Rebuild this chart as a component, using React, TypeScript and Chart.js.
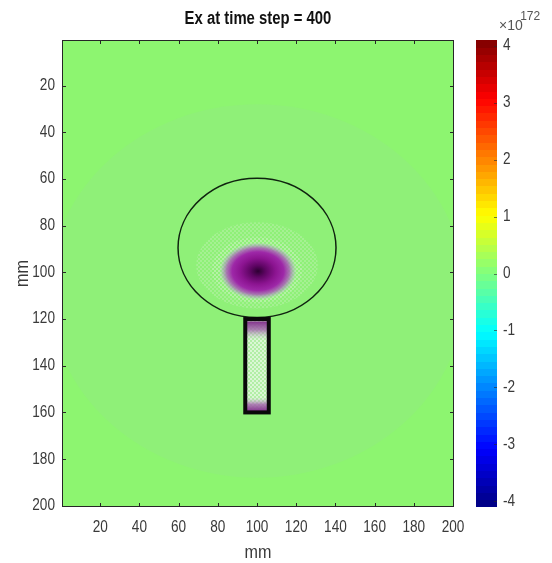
import React, { useEffect, useRef } from 'react';
import { Chart, registerables } from 'chart.js';

Chart.register(...registerables);

// ---------- data (mm units / field units) ----------
const titleText = 'Ex at time step = 400';
const axisTitle = 'mm';
const fieldRange = [0.5, 200.5];
const xTicks = [20, 40, 60, 80, 100, 120, 140, 160, 180, 200];
const yTicks = [20, 40, 60, 80, 100, 120, 140, 160, 180, 200];
const colorbarTicks = [-4, -3, -2, -1, 0, 1, 2, 3, 4];
const colorbarRange = [-4.1, 4.1];
const colorbarExponent = '172';
// ellipses: [cx, cy, rx, ry] in mm
const outerHalo = [100, 108, 106, 80];
const headOutline = [100, 89.5, 40.3, 29.8];
const innerHaloWide = [100, 97, 31, 18.5];
const innerHaloCore = [100, 99, 23, 14];
const blobCore = [100.5, 99.5, 20, 12.5];
// feed rectangle: [x0, y0, x1, y1] in mm
const feedRect = [94, 120, 106, 160];
const feedTopBand = [121, 129];
const feedBottomBand = [153.5, 159.5];

const FONT = "'Liberation Sans', Arial, sans-serif";
const SQUEEZE = 0.85;
const TEXT = '#3a3a3a';
const BG = 'rgb(141,245,112)';

function jet(t: number): string {
  const c = (v: number) => Math.round(255 * Math.max(0, Math.min(1, v)));
  return `rgb(${c(1.5 - Math.abs(4 * t - 3))},${c(1.5 - Math.abs(4 * t - 2))},${c(1.5 - Math.abs(4 * t - 1))})`;
}

function ell(chart: any, e: number[]) {
  const { x, y } = chart.scales;
  const X = x.getPixelForValue(e[0]);
  const Y = y.getPixelForValue(e[1]);
  const RX = Math.abs(x.getPixelForValue(e[0] + e[2]) - X);
  const RY = Math.abs(y.getPixelForValue(e[1] + e[3]) - Y);
  return { X, Y, RX, RY };
}

function checker(ctx: CanvasRenderingContext2D, color: string) {
  const c = document.createElement('canvas');
  c.width = 4; c.height = 4;
  const g = c.getContext('2d')!;
  g.fillStyle = color;
  g.fillRect(0, 0, 2, 2);
  g.fillRect(2, 2, 2, 2);
  return ctx.createPattern(c, 'repeat')!;
}

// narrow text rendering (MATLAB-like condensed look)
const narrowTextPlugin = {
  id: 'narrowText',
  beforeDraw(chart: any) {
    const ctx = chart.ctx as any;
    if (ctx.__origFill) return;
    const orig = ctx.fillText;
    ctx.__origFill = orig;
    ctx.fillText = function (text: string, x: number, y: number, maxWidth?: number) {
      this.save();
      this.translate(x, y);
      this.scale(SQUEEZE, 1);
      if (maxWidth != null) orig.call(this, text, 0, 0, maxWidth / SQUEEZE);
      else orig.call(this, text, 0, 0);
      this.restore();
    };
  },
  afterDraw(chart: any) {
    const ctx = chart.ctx as any;
    if (ctx.__origFill) {
      ctx.fillText = ctx.__origFill;
      delete ctx.__origFill;
    }
  },
};

const fieldPlugin = {
  id: 'field',
  beforeDatasetsDraw(chart: any) {
    const { ctx, chartArea: a, scales } = chart;
    const { x, y } = scales;
    ctx.save();
    ctx.beginPath();
    ctx.rect(a.left, a.top, a.width, a.height);
    ctx.clip();
    ctx.fillStyle = BG;
    ctx.fillRect(a.left, a.top, a.width, a.height);
    // faint outer halo
    let e = ell(chart, outerHalo);
    ctx.fillStyle = 'rgb(143,240,120)';
    ctx.beginPath(); ctx.ellipse(e.X, e.Y, e.RX, e.RY, 0, 0, Math.PI * 2); ctx.fill();
    // checker halo around blob
    const pat = checker(ctx, 'rgb(205,244,196)');
    ctx.fillStyle = pat;
    e = ell(chart, innerHaloWide);
    ctx.globalAlpha = 0.35;
    ctx.beginPath(); ctx.ellipse(e.X, e.Y, e.RX, e.RY, 0, 0, Math.PI * 2); ctx.fill();
    e = ell(chart, innerHaloCore);
    ctx.globalAlpha = 0.4;
    ctx.beginPath(); ctx.ellipse(e.X, e.Y, e.RX, e.RY, 0, 0, Math.PI * 2); ctx.fill();
    ctx.globalAlpha = 1;
    // blob
    e = ell(chart, blobCore);
    ctx.save();
    ctx.translate(e.X, e.Y);
    ctx.scale(e.RX, e.RY);
    const g = ctx.createRadialGradient(0, 0, 0, 0, 0, 1);
    g.addColorStop(0, 'rgb(45,0,50)');
    g.addColorStop(0.2, 'rgb(95,5,100)');
    g.addColorStop(0.45, 'rgb(140,20,145)');
    g.addColorStop(0.66, 'rgb(158,40,168)');
    g.addColorStop(0.8, 'rgba(168,95,182,0.85)');
    g.addColorStop(0.92, 'rgba(170,170,190,0.45)');
    g.addColorStop(1, 'rgba(190,230,190,0)');
    ctx.fillStyle = g;
    ctx.beginPath(); ctx.arc(0, 0, 1, 0, Math.PI * 2); ctx.fill();
    ctx.restore();
    // feed interior
    const x0 = x.getPixelForValue(feedRect[0]);
    const x1 = x.getPixelForValue(feedRect[2]);
    const y0 = y.getPixelForValue(feedRect[1]);
    const y1 = y.getPixelForValue(feedRect[3]);
    ctx.fillStyle = 'rgb(178,238,166)';
    ctx.fillRect(x0, y0, x1 - x0, y1 - y0);
    ctx.fillStyle = checker(ctx, 'rgb(232,250,228)');
    ctx.globalAlpha = 0.75;
    ctx.fillRect(x0, y0, x1 - x0, y1 - y0);
    ctx.globalAlpha = 1;
    const tb0 = y.getPixelForValue(feedTopBand[0]);
    const tb1 = y.getPixelForValue(feedTopBand[1]);
    let lg = ctx.createLinearGradient(0, tb0, 0, tb1);
    lg.addColorStop(0, 'rgba(130,50,140,1)');
    lg.addColorStop(0.45, 'rgba(160,100,170,0.8)');
    lg.addColorStop(1, 'rgba(200,200,210,0)');
    ctx.fillStyle = lg;
    ctx.fillRect(x0, tb0, x1 - x0, tb1 - tb0);
    const bb0 = y.getPixelForValue(feedBottomBand[0]);
    const bb1 = y.getPixelForValue(feedBottomBand[1]);
    lg = ctx.createLinearGradient(0, bb0, 0, bb1);
    lg.addColorStop(0, 'rgba(200,200,210,0)');
    lg.addColorStop(0.5, 'rgba(165,100,175,0.8)');
    lg.addColorStop(1, 'rgba(130,50,140,1)');
    ctx.fillStyle = lg;
    ctx.fillRect(x0, bb0, x1 - x0, bb1 - bb0);
    // outlines
    e = ell(chart, headOutline);
    ctx.strokeStyle = 'rgb(15,35,15)';
    ctx.lineWidth = 1.5;
    ctx.beginPath(); ctx.ellipse(e.X, e.Y, e.RX, e.RY, 0, 0, Math.PI * 2); ctx.stroke();
    ctx.strokeStyle = 'rgb(10,10,10)';
    ctx.lineWidth = 4;
    ctx.strokeRect(x0, y0, x1 - x0, y1 - y0);
    ctx.restore();
  },
  afterDraw(chart: any) {
    const { ctx, chartArea: a, scales } = chart;
    const { x, y, cb } = scales;
    ctx.save();
    ctx.strokeStyle = '#262626';
    ctx.lineWidth = 1;
    ctx.strokeRect(a.left + 0.5, a.top + 0.5, a.width - 1, a.height - 1);
    ctx.beginPath();
    xTicks.forEach((v) => {
      const p = Math.round(x.getPixelForValue(v)) + 0.5;
      ctx.moveTo(p, a.bottom); ctx.lineTo(p, a.bottom - 4);
      ctx.moveTo(p, a.top); ctx.lineTo(p, a.top + 4);
    });
    yTicks.forEach((v) => {
      const p = Math.round(y.getPixelForValue(v)) + 0.5;
      ctx.moveTo(a.left, p); ctx.lineTo(a.left + 4, p);
      ctx.moveTo(a.right, p); ctx.lineTo(a.right - 4, p);
    });
    ctx.stroke();
    // colorbar
    const bx0 = a.right + 22;
    const bw = 21;
    const n = 64;
    const [lo, hi] = colorbarRange;
    for (let i = 0; i < n; i++) {
      const v0 = lo + ((hi - lo) * i) / n;
      const v1 = lo + ((hi - lo) * (i + 1)) / n;
      const p0 = cb.getPixelForValue(v0);
      const p1 = cb.getPixelForValue(v1);
      ctx.fillStyle = jet((i + 0.5) / n);
      ctx.fillRect(bx0, Math.floor(p1), bw, Math.ceil(p0) - Math.floor(p1));
    }
    ctx.strokeStyle = 'rgba(40,40,40,0.6)';
    ctx.beginPath();
    colorbarTicks.forEach((v) => {
      const p = Math.round(cb.getPixelForValue(v)) + 0.5;
      ctx.moveTo(bx0 + bw, p); ctx.lineTo(bx0 + bw - 3, p);
    });
    ctx.stroke();
    // exponent label
    ctx.fillStyle = '#555';
    ctx.textBaseline = 'middle';
    ctx.textAlign = 'left';
    ctx.font = `14px ${FONT}`;
    ctx.fillText('\u00d710', bx0 + 23, 26);
    const w = ctx.measureText('\u00d710').width * SQUEEZE;
    ctx.font = `12px ${FONT}`;
    ctx.fillText(colorbarExponent, bx0 + 23 + w + 1, 17);
    ctx.restore();
  },
};

export default function App() {
  const ref = useRef<HTMLCanvasElement>(null);
  useEffect(() => {
    const tickFont = { family: FONT, size: 16 };
    const chart = new Chart(ref.current!, {
      type: 'scatter',
      data: { datasets: [{ data: [], xAxisID: 'x', yAxisID: 'y' }] },
      options: {
        responsive: false,
        animation: false,
        layout: { padding: 0 },
        plugins: {
          legend: { display: false },
          tooltip: { enabled: false },
          title: {
            display: true,
            fullSize: false,
            text: titleText,
            color: '#111',
            font: { family: FONT, size: 17.5, weight: 'bold' },
            padding: { top: 9, bottom: 10 },
          },
        },
        scales: {
          x: {
            type: 'linear',
            position: 'bottom',
            min: fieldRange[0],
            max: fieldRange[1],
            grid: { display: false, drawTicks: false },
            border: { display: false },
            ticks: { padding: 11, color: TEXT, font: tickFont, maxRotation: 0, autoSkip: false },
            afterBuildTicks: (s: any) => { s.ticks = xTicks.map((v) => ({ value: v })); },
            afterFit: (s: any) => { s.height = 56; },
            title: { display: true, text: axisTitle, color: TEXT, font: { family: FONT, size: 19 }, padding: { top: 0, bottom: -1 } },
          },
          y: {
            type: 'linear',
            position: 'left',
            reverse: true,
            min: fieldRange[0],
            max: fieldRange[1],
            grid: { display: false, drawTicks: false },
            border: { display: false },
            ticks: { padding: 7, color: TEXT, font: tickFont, autoSkip: false },
            afterBuildTicks: (s: any) => { s.ticks = yTicks.map((v) => ({ value: v })); },
            afterFit: (s: any) => { s.width = 62; },
            title: { display: true, text: axisTitle, color: TEXT, font: { family: FONT, size: 19 }, padding: { top: 11, bottom: 0 } },
          },
          cb: {
            type: 'linear',
            position: 'right',
            min: colorbarRange[0],
            max: colorbarRange[1],
            grid: { display: false, drawTicks: true, tickLength: 49 },
            border: { display: false },
            ticks: { padding: 0, color: TEXT, font: { family: FONT, size: 16 }, autoSkip: false },
            afterBuildTicks: (s: any) => { s.ticks = colorbarTicks.map((v) => ({ value: v })); },
            afterFit: (s: any) => { s.width = 98; },
          },
        },
      } as any,
      plugins: [narrowTextPlugin, fieldPlugin],
    });
    return () => chart.destroy();
  }, []);
  return (
    <div style={{ position: 'fixed', left: 0, top: 0, width: 552, height: 563, background: '#fff' }}>
      <canvas ref={ref} width={552} height={563} style={{ display: 'block' }} />
    </div>
  );
}
